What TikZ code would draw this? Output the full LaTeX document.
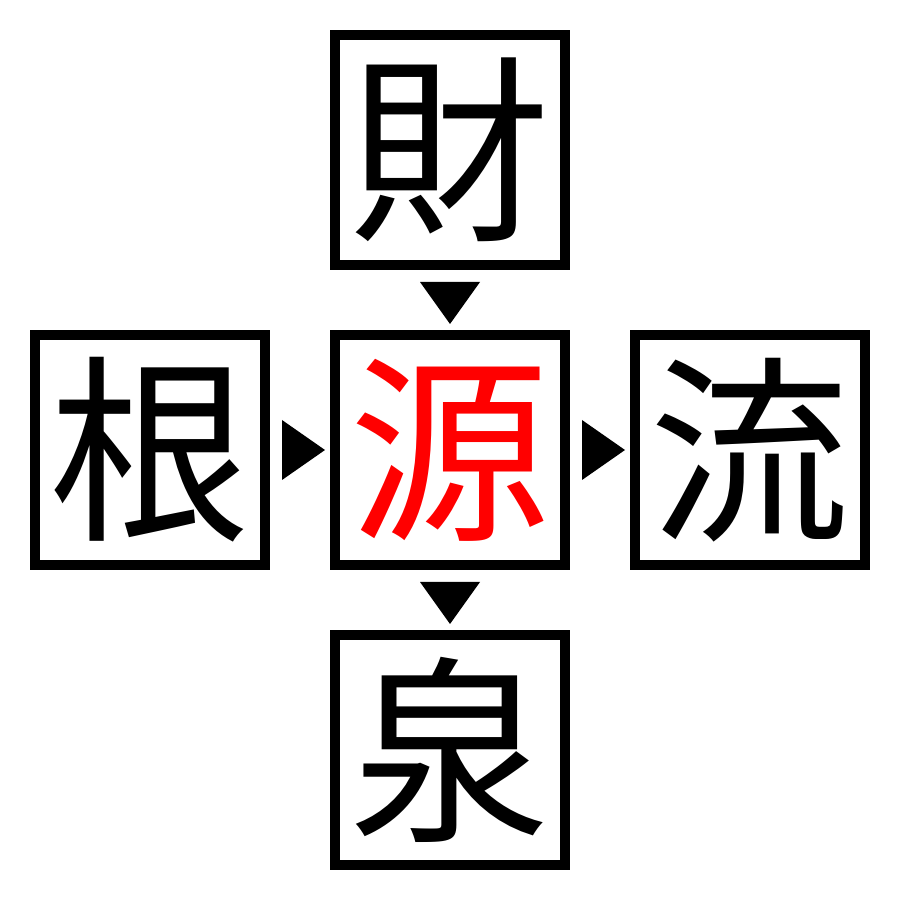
\documentclass[tikz,border=0pt]{standalone}
\usepackage{fontspec}
\newfontfamily\cjk{Noto Sans CJK JP}
\usetikzlibrary{calc}
\begin{document}
\begin{tikzpicture}[
  kbox/.style={draw=black, line width=1mm, minimum size=2.3cm, inner sep=0pt, outer sep=0pt, font=\cjk\fontsize{57}{57}\selectfont},
  tri/.style={fill=black, draw=none}
]
\useasboundingbox[fill=white] (0,0) rectangle (9,9);
\node[kbox] (top) at (4.5,7.5) {財};
\node[kbox] (left) at (1.5,4.5) {根};
\node[kbox, text=red] (mid) at (4.5,4.5) {源};
\node[kbox] (right) at (7.5,4.5) {流};
\node[kbox] (bot) at (4.5,1.5) {泉};
% down triangles
\fill[tri] ($(top.south)+(-0.3,-0.17)$) -- ($(top.south)+(0.3,-0.17)$) -- ($(top.south)+(0,-0.59)$) -- cycle;
\fill[tri] ($(mid.south)+(-0.3,-0.17)$) -- ($(mid.south)+(0.3,-0.17)$) -- ($(mid.south)+(0,-0.59)$) -- cycle;
% right triangles
\fill[tri] ($(left.east)+(0.17,0.3)$) -- ($(left.east)+(0.17,-0.3)$) -- ($(left.east)+(0.60,0)$) -- cycle;
\fill[tri] ($(mid.east)+(0.17,0.3)$) -- ($(mid.east)+(0.17,-0.3)$) -- ($(mid.east)+(0.60,0)$) -- cycle;
\end{tikzpicture}
\end{document}
